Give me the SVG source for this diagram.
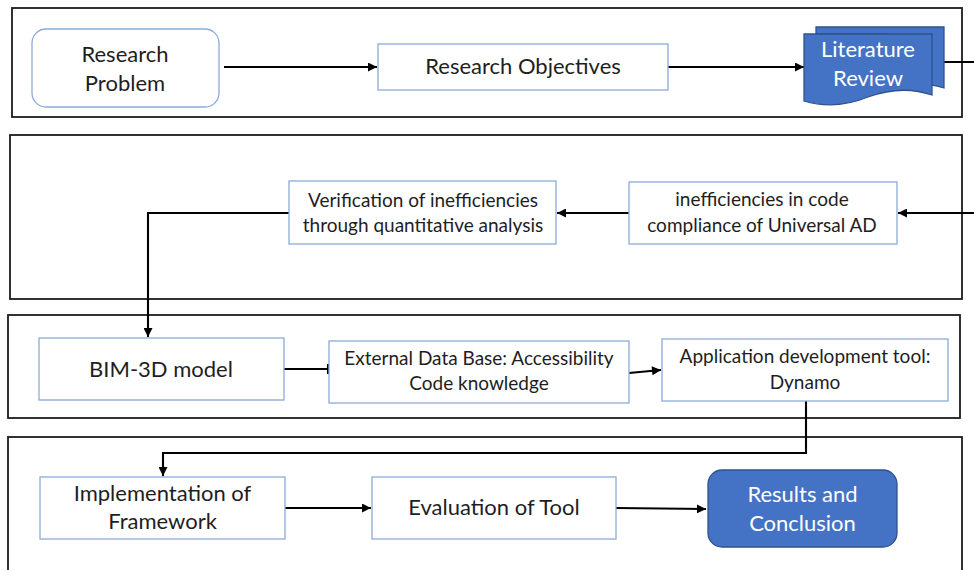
<svg xmlns="http://www.w3.org/2000/svg" width="974" height="570" viewBox="0 0 974 570">
  <style>
    .frame { fill: #ffffff; stroke: #1c1c1c; stroke-width: 1.8; }
    .box { fill: #ffffff; stroke: #8eaadb; stroke-width: 1.3; }
    .dark { fill: #4472c4; stroke: #2f528f; stroke-width: 1.3; }
    .t { font-family: Lato, "Liberation Sans", sans-serif; fill: #1e1e1e; text-anchor: middle; }
    .big { font-size: 22px; }
    .small { font-size: 19px; }
    .w { fill: #ffffff; }
    .link { fill: none; stroke: #000000; stroke-width: 2.1; }
  </style>
  <defs>
    <marker id="arrow" viewBox="0 0 10 10" refX="10" refY="5" markerWidth="10" markerHeight="9" orient="auto" markerUnits="userSpaceOnUse">
      <path d="M0,0 L10,5 L0,10 z" fill="#000000"/>
    </marker>
  </defs>

  <!-- stage frames -->
  <g id="frames">
    <rect class="frame" x="12" y="8" width="950" height="109"/>
    <rect class="frame" x="10" y="135" width="952" height="164"/>
    <rect class="frame" x="8" y="315" width="952" height="103"/>
    <rect class="frame" x="8" y="437" width="954" height="150"/>
  </g>

  <!-- connectors -->
  <g id="connectors">
    <path class="link" d="M224,67 H377" marker-end="url(#arrow)"/>
    <path class="link" d="M668,67 H804" marker-end="url(#arrow)"/>
    <path class="link" d="M944,62 H990 V213 H898" marker-end="url(#arrow)"/>
    <path class="link" d="M629,213 H557" marker-end="url(#arrow)"/>
    <path class="link" d="M289,213 H148 V337" marker-end="url(#arrow)"/>
    <path class="link" d="M284,369 H329"/>
    <path class="link" d="M328,364 V374"/>
    <path class="link" d="M629,373 L661,370" marker-end="url(#arrow)"/>
    <path class="link" d="M806,401 V453 H163 V476" marker-end="url(#arrow)"/>
    <path class="link" d="M285,508 H371" marker-end="url(#arrow)"/>
    <path class="link" d="M616,508 L706,509" marker-end="url(#arrow)"/>
  </g>

  <g id="research-problem">
    <rect class="box" x="32" y="29" width="187" height="78" rx="14"/>
    <text class="t big" x="125" y="62">Research</text>
    <text class="t big" x="125" y="91">Problem</text>
  </g>

  <g id="research-objectives">
    <rect class="box" x="378" y="44" width="290" height="46"/>
    <text class="t big" x="523" y="74">Research Objectives</text>
  </g>

  <g id="literature-review">
    <path class="dark" d="M816,27 H944 V88 C924,82 904,83 888,90 L888,34 H816 Z"/>
    <path class="dark" d="M804,34 H932 V95 C912,88 890,89 868,97 C846,106 824,107 804,101 Z"/>
    <text class="t big w" x="868" y="57">Literature</text>
    <text class="t big w" x="868" y="86">Review</text>
  </g>

  <g id="inefficiencies">
    <rect class="box" x="629" y="182" width="268" height="62"/>
    <text class="t small" x="762" y="206">inefficiencies in code</text>
    <text class="t small" x="762" y="232">compliance of Universal AD</text>
  </g>

  <g id="verification">
    <rect class="box" x="289" y="181" width="267" height="63"/>
    <text class="t small" x="423" y="207">Verification of inefficiencies</text>
    <text class="t small" x="423" y="232">through quantitative analysis</text>
  </g>

  <g id="bim-model">
    <rect class="box" x="39" y="338" width="245" height="62"/>
    <text class="t big" x="161" y="377">BIM-3D model</text>
  </g>

  <g id="external-database">
    <rect class="box" x="329" y="341" width="300" height="62"/>
    <text class="t small" x="479" y="365">External Data Base: Accessibility</text>
    <text class="t small" x="479" y="390">Code knowledge</text>
  </g>

  <g id="dynamo">
    <rect class="box" x="662" y="339" width="286" height="62"/>
    <text class="t small" x="805" y="363">Application development tool:</text>
    <text class="t small" x="805" y="389">Dynamo</text>
  </g>

  <g id="implementation">
    <rect class="box" x="40" y="477" width="245" height="62"/>
    <text class="t big" x="162.5" y="501">Implementation of</text>
    <text class="t big" x="162.5" y="529">Framework</text>
  </g>

  <g id="evaluation">
    <rect class="box" x="372" y="477" width="244" height="62"/>
    <text class="t big" x="494" y="515">Evaluation of Tool</text>
  </g>

  <g id="results">
    <rect class="dark" x="708" y="470" width="189" height="77" rx="14"/>
    <text class="t big w" x="802.5" y="502">Results and</text>
    <text class="t big w" x="802.5" y="531">Conclusion</text>
  </g>
</svg>
